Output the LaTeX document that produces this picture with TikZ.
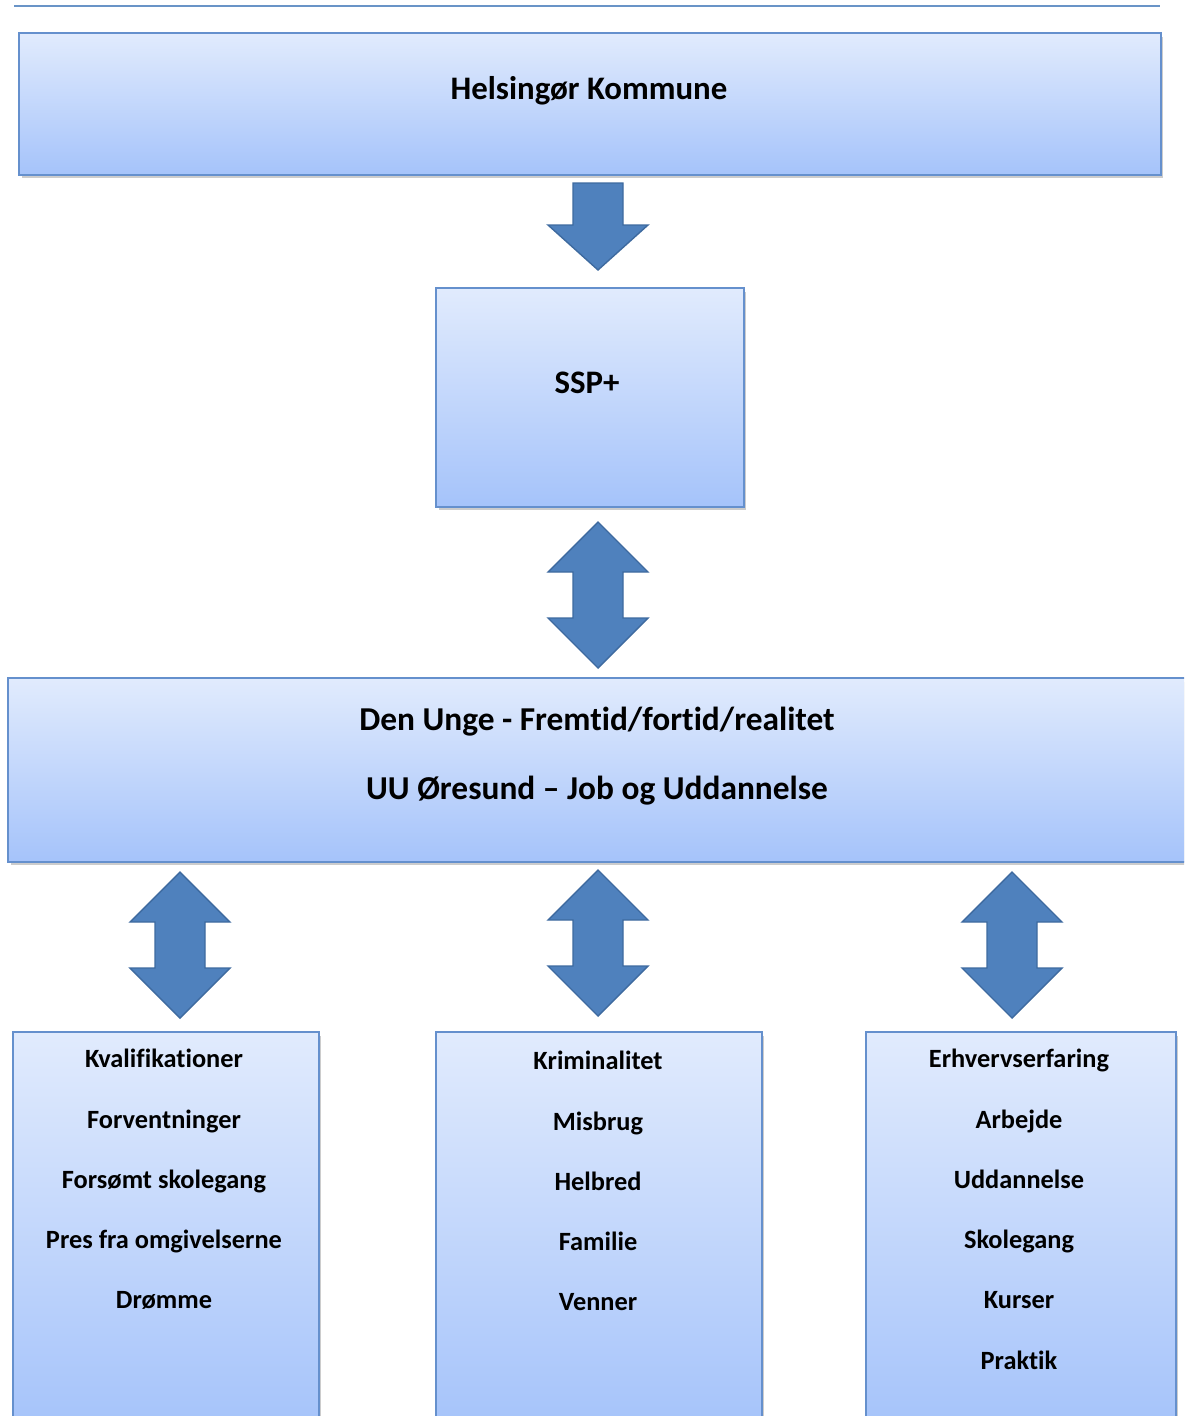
\documentclass[tikz,border=0pt]{standalone}
\usepackage{fontspec}
\setmainfont{Carlito}[RawFeature={-liga;-clig;-calt}]
\usetikzlibrary{positioning, shadows}
\definecolor{boxtop}{HTML}{E1EBFD}
\definecolor{boxbot}{HTML}{A5C3FA}
\definecolor{boxline}{HTML}{6590CD}
\definecolor{arrfill}{HTML}{4F81BD}
\definecolor{arrline}{HTML}{3E6A9F}
\tikzset{
    box/.style={draw=boxline, line width=1pt, top color=boxtop, bottom color=boxbot, inner sep=0pt,
        drop shadow={shadow xshift=0.05cm, shadow yshift=-0.07cm, opacity=0.4}},
    txt/.style={font=\bfseries\fontsize{15}{34.3}\selectfont, inner sep=0pt, align=center},
    bigtxt/.style={txt, font=\bfseries\fontsize{18.7}{39.7}\selectfont},
    blockarrow/.style={fill=arrfill, draw=arrline, line width=0.8pt, line join=miter},
    pics/updown/.style={code={
        \draw[blockarrow] (0,0) -- (50,50) -- (25,50) -- (25,96) -- (50,96) -- (0,146)
            -- (-50,96) -- (-25,96) -- (-25,50) -- (-50,50) -- cycle;}},
    pics/down/.style={code={
        \draw[blockarrow] (-25,0) -- (25,0) -- (25,42) -- (50,42) -- (0,87)
            -- (-50,42) -- (-25,42) -- cycle;}}
}

\begin{document}
\begin{tikzpicture}[x=0.02cm, y=-0.02cm]
    \useasboundingbox (0,0) rectangle (1184,1416);
    \clip (0,0) rectangle (1184,1416);

    \draw[arrfill!85, line width=1.1pt] (14,6) -- (1160,6); % top rule

    % boxes
    \node[box, minimum width=22.84cm, minimum height=2.84cm] (kommune) at (590,104) {};
    \node[bigtxt] (kommunetxt) at (589,91) {Helsingør Kommune};

    \node[box, minimum width=6.16cm, minimum height=4.38cm] (ssp) at (590,397.5) {};
    \node[bigtxt] (ssptxt) at (587,383) {SSP+};

    \node[box, minimum width=23.64cm, minimum height=3.68cm] (unge) at (599,770) {};
    \node[bigtxt, font=\bfseries\fontsize{19}{39.7}\selectfont] (ungetxt) at (597,756)
        {Den Unge - Fremtid/fortid/realitet\\UU Øresund -- Job og Uddannelse};

    \node[box, minimum width=6.12cm, minimum height=7.96cm] (venstre) at (166,1231) {};
    \node[txt, anchor=north] (venstretxt) at (164,1049)
        {Kvalifikationer\\Forventninger\\Forsømt skolegang\\Pres fra omgivelserne\\Drømme};

    \node[box, minimum width=6.52cm, minimum height=7.96cm] (midte) at (599,1231) {};
    \node[txt, anchor=north] (midtetxt) at (598,1051)
        {Kriminalitet\\Misbrug\\Helbred\\Familie\\Venner};

    \node[box, minimum width=6.2cm, minimum height=7.96cm] (hoejre) at (1021,1231) {};
    \node[txt, anchor=north] (hoejretxt) at (1019,1049)
        {Erhvervserfaring\\Arbejde\\Uddannelse\\Skolegang\\Kurser\\Praktik};

    % arrows
    \pic at (598,183) {down};
    \pic at (598,522) {updown};
    \pic at (180,872) {updown};
    \pic at (598,870) {updown};
    \pic at (1012,872) {updown};
\end{tikzpicture}
\end{document}
